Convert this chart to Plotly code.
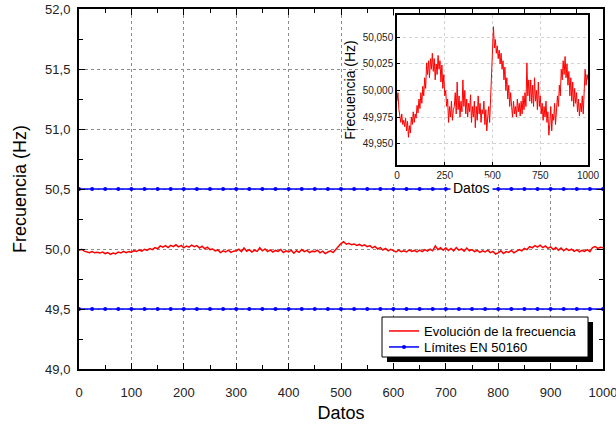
import plotly.graph_objects as go

# ---------------- data ----------------
freq = [
    49.990, 49.998, 49.982, 49.975, 49.970, 49.978, 49.968, 49.972, 49.966, 49.974,
    49.962, 49.971, 49.956, 49.967, 49.960, 49.975, 49.968, 49.980, 49.970, 49.978,
    49.974, 49.986, 49.979, 49.992, 49.983, 49.998, 49.988, 50.004, 49.995, 50.012,
    50.002, 50.026, 50.015, 50.028, 50.012, 50.030, 50.020, 50.035, 50.018, 50.030,
    50.010, 50.025, 50.015, 50.033, 50.020, 50.028, 50.008, 50.024, 50.002, 50.015,
    49.995, 50.000, 49.985, 49.992, 49.970, 49.985, 49.975, 49.990, 49.972, 49.982,
    49.985, 49.998, 49.978, 50.008, 49.982, 49.995, 49.975, 49.990, 49.980, 50.010,
    49.985, 50.000, 49.978, 49.992, 49.975, 49.988, 49.980, 49.996, 49.970, 49.985,
    49.975, 49.990, 49.965, 49.985, 49.972, 49.995, 49.978, 49.988, 49.970, 49.982,
    49.978, 49.990, 49.968, 49.982, 49.962, 49.975, 49.985, 49.970, 49.995, 50.020,
    50.045, 50.060, 50.040, 50.048, 50.035, 50.042, 50.030, 50.038, 50.025, 50.035,
    50.020, 50.028, 50.010, 50.022, 50.000, 50.012, 49.992, 50.005, 49.985, 49.998,
    49.985, 49.975, 49.990, 49.978, 49.985, 49.975, 49.992, 49.980, 49.988, 49.976,
    49.990, 49.978, 49.995, 49.982, 49.998, 49.985, 50.026, 49.995, 50.010, 49.990,
    50.010, 49.988, 50.005, 49.985, 50.012, 49.990, 50.000, 49.982, 50.008, 49.985,
    49.995, 49.978, 49.988, 49.972, 49.985, 49.975, 49.990, 49.970, 49.980, 49.958,
    49.968, 49.985, 49.962, 49.978, 49.972, 49.988, 49.968, 49.982, 49.995, 49.985,
    50.005, 49.995, 50.020, 50.010, 50.028, 50.015, 50.032, 50.012, 50.025, 50.005,
    50.018, 49.995, 50.012, 49.990, 50.008, 49.985, 50.002, 49.988, 49.998, 49.980,
    49.992, 49.976, 49.988, 49.980, 49.995, 49.978, 50.012, 50.020, 50.005, 50.015,
    50.010,
]
datos_step = 5
datos = [i * datos_step for i in range(len(freq))]

limit_x = list(range(0, 1001, 25))
limit_low = 49.5
limit_high = 50.5

main_yticks = [49.0, 49.5, 50.0, 50.5, 51.0, 51.5, 52.0]
main_xticks = [0, 100, 200, 300, 400, 500, 600, 700, 800, 900, 1000]
inset_yticks = [49.950, 49.975, 50.000, 50.025, 50.050]
inset_xticks = [0, 250, 500, 750, 1000]

FONT = "Arial, Liberation Sans, sans-serif"

# ---------------- geometry (pixels) ----------------
W, H = 616, 429
L, R, T, B = 79, 603, 9, 369
pw, ph = R - L, B - T


def px(x):
    return (x - L) / pw


def py(y):
    return (B - y) / ph


fig = go.Figure()

# main traces
fig.add_trace(go.Scatter(x=datos, y=freq, mode="lines",
                         line=dict(color="#ff0000", width=1.5),
                         name="Evolución de la frecuencia", legend="legend"))
fig.add_trace(go.Scatter(x=limit_x, y=[limit_high] * len(limit_x), mode="lines+markers",
                         line=dict(color="#0000ff", width=1.5),
                         marker=dict(color="#0000ff", size=4),
                         name="Límites EN 50160", legendgroup="lim", legend="legend2"))
fig.add_trace(go.Scatter(x=limit_x, y=[limit_low] * len(limit_x), mode="lines+markers",
                         line=dict(color="#0000ff", width=1.5),
                         marker=dict(color="#0000ff", size=4),
                         name="Límites EN 50160", legendgroup="lim", showlegend=False,
                         legend="legend2"))

# white cover behind inset (invisible subplot whose background hides the main grid)
fig.add_trace(go.Scatter(x=[0.5], y=[0.5], xaxis="x2", yaxis="y2", mode="markers",
                         marker=dict(opacity=0), showlegend=False, hoverinfo="skip"))

# inset trace
fig.add_trace(go.Scatter(x=datos, y=freq, mode="lines", xaxis="x3", yaxis="y3",
                         line=dict(color="#ff0000", width=1), showlegend=False))

axis_common = dict(showline=True, linecolor="black", mirror="ticks", zeroline=False,
                   automargin=False, ticklabeloverflow="allow",
                   tickfont=dict(family=FONT, size=13, color="#222222"),
                   ticks="inside", ticklen=6, tickcolor="black",
                   showgrid=True, gridcolor="#8c8c8c", griddash="3px,3px", gridwidth=1)

inset_common = dict(showline=True, linecolor="black", linewidth=1.5, automargin=False,
                    mirror=True, zeroline=False, ticks="inside", ticklen=3, tickcolor="black",
                    ticklabeloverflow="allow",
                    tickfont=dict(family=FONT, size=10, color="#222222"),
                    showgrid=True, gridcolor="#d2d2d2", griddash="dot", gridwidth=1)

legend_common = dict(xanchor="left", yanchor="middle", bgcolor="rgba(0,0,0,0)",
                     borderwidth=0, font=dict(family=FONT, size=13, color="black"),
                     itemwidth=30)

fig.update_layout(
    template="none",
    width=W, height=H,
    margin=dict(l=L, r=W - R, t=T, b=H - B, autoexpand=False),
    paper_bgcolor="white", plot_bgcolor="white",
    separators=",.",
    font=dict(family=FONT, color="black"),
    xaxis=dict(axis_common, range=[0, 1000], tickvals=main_xticks, linewidth=2,
               minor=dict(ticks="inside", ticklen=4, dtick=50, tickcolor="black", showgrid=False),
               ticklabelstandoff=10,
               title=dict(text="Datos", font=dict(family=FONT, size=18), standoff=8)),
    yaxis=dict(axis_common, range=[49.0, 52.0], tickvals=main_yticks, tickformat=".1f",
               linewidth=2,
               minor=dict(ticks="inside", ticklen=4, dtick=0.25, tickcolor="black", showgrid=False),
               ticklabelstandoff=4,
               title=dict(text="Frecuencia (Hz)", font=dict(family=FONT, size=18), standoff=14)),
    xaxis2=dict(domain=[px(366), px(596)], anchor="y2", visible=False, range=[0, 1],
                automargin=False),
    yaxis2=dict(domain=[py(184), py(16)], anchor="x2", visible=False, range=[0, 1],
                automargin=False),
    xaxis3=dict(inset_common, domain=[px(397), px(588)], anchor="y3", range=[0, 1000],
                tickvals=inset_xticks),
    yaxis3=dict(inset_common, domain=[py(165), py(15)], anchor="x3", range=[49.930, 50.071],
                tickvals=inset_yticks, tickformat=".3f",
                title=dict(text="Frecuencia (Hz)", font=dict(family=FONT, size=14), standoff=4)),
    showlegend=True,
    legend=dict(legend_common, x=px(384), y=py(331)),
    legend2=dict(legend_common, x=px(384), y=py(347)),
)

# inset x-axis title with white background (hides the blue limit line)
fig.add_annotation(x=(px(397) + px(588)) / 2, y=py(188), xref="paper", yref="paper",
                   text="Datos", showarrow=False, bgcolor="white", borderpad=2,
                   font=dict(family=FONT, size=14, color="black"))

# legend shadow and box
fig.add_shape(type="rect", xref="paper", yref="paper", layer="above",
              x0=px(387), x1=px(593), y0=py(362), y1=py(322),
              fillcolor="black", line=dict(width=0))
fig.add_shape(type="rect", xref="paper", yref="paper", layer="above",
              x0=px(382), x1=px(588), y0=py(357), y1=py(317),
              fillcolor="white", line=dict(color="black", width=1))

fig.write_html("out.html")
